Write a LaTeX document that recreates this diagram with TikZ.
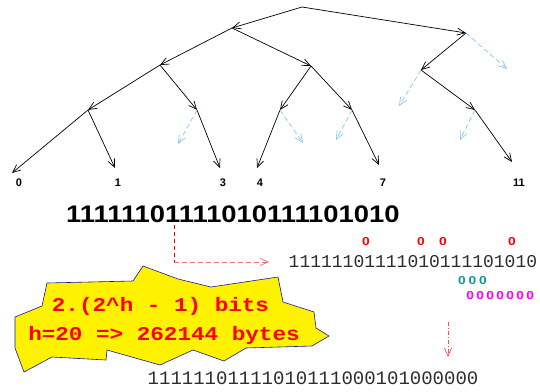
\documentclass[tikz,border=0pt]{standalone}
\usepackage{fontspec}
\setmainfont{Liberation Sans}
\newfontfamily\monofont{Liberation Mono}
\usetikzlibrary{arrows.meta}
\definecolor{ghostblue}{RGB}{135,200,250}
\definecolor{inkgray}{RGB}{45,45,45}
\definecolor{blobedge}{RGB}{25,25,140}
\definecolor{tealzero}{RGB}{20,150,150}
\definecolor{pinkred}{RGB}{235,110,110}
\definecolor{brightmagenta}{RGB}{255,0,255}
\newcommand\wzero{\scalebox{1.2}[1]{0}}
\newcommand\pzero{\makebox[10pt]{\wzero}}
\newcommand\qzero{\makebox[10.5pt]{\wzero}}
\tikzset{
  barb/.tip={Straight Barb[length=8pt,width=7pt]},
  treeline/.style={draw=black, line width=0.7pt, -barb},
  ghost/.style={draw=ghostblue, line width=0.7pt, dash pattern=on 5pt off 3pt, -barb},
  leaflabel/.style={font=\bfseries\fontsize{11}{11}\selectfont, inner sep=0pt},
  zerolabel/.style={font=\bfseries\fontsize{11.5}{11.5}\selectfont, inner sep=0pt},
  bitrow/.style={font=\monofont\fontsize{18}{18}\selectfont, text=inkgray, inner sep=0pt, anchor=base west},
  costtext/.style={font=\monofont\bfseries\fontsize{19.5}{19.5}\selectfont, text=red, inner sep=0pt, anchor=base},
}
\begin{document}
\begin{tikzpicture}[x=1pt,y=-1pt]
\useasboundingbox (0,0) rectangle (540,391);

% inner points of the tree
\coordinate (r)   at (302,7);
\coordinate (a)   at (232,28);
\coordinate (b)   at (466,33);
\coordinate (aa)  at (160,65);
\coordinate (ab)  at (311,66);
\coordinate (ba)  at (421,70);
\coordinate (aaa) at (88,110);
\coordinate (aab) at (197,110);
\coordinate (aba) at (280,110);
\coordinate (abb) at (352,110);
\coordinate (bab) at (475,110);
% leaf ends
\coordinate (l0)  at (12,173);
\coordinate (l1)  at (115,168);
\coordinate (l3)  at (220,168);
\coordinate (l4)  at (257,168);
\coordinate (l7)  at (379,165);
\coordinate (l11) at (512,162);
% ends of the empty branches
\coordinate (g1) at (507,69);
\coordinate (g2) at (399,106);
\coordinate (g3) at (178,144);
\coordinate (g4) at (303,143);
\coordinate (g5) at (336,140);
\coordinate (g6) at (460,140);

% present branches
\draw[treeline] (r) -- (a);
\draw[treeline] (r) -- (b);
\draw[treeline] (a) -- (aa);
\draw[treeline] (a) -- (ab);
\draw[treeline] (b) -- (ba);
\draw[treeline] (aa) -- (aaa);
\draw[treeline] (aa) -- (aab);
\draw[treeline] (ab) -- (aba);
\draw[treeline] (ab) -- (abb);
\draw[treeline] (ba) -- (bab);
\draw[treeline] (aaa) -- (l0);
\draw[treeline] (aaa) -- (l1);
\draw[treeline] (aab) -- (l3);
\draw[treeline] (aba) -- (l4);
\draw[treeline] (abb) -- (l7);
\draw[treeline] (bab) -- (l11);
% empty branches
\draw[ghost] (b) -- (g1);
\draw[ghost] (ba) -- (g2);
\draw[ghost] (aab) -- (g3);
\draw[ghost] (aba) -- (g4);
\draw[ghost] (abb) -- (g5);
\draw[ghost] (bab) -- (g6);

% leaf keys
\node[leaflabel] (k0)  at (19,183)  {0};
\node[leaflabel] (k1)  at (118,183) {1};
\node[leaflabel] (k3)  at (223,183) {3};
\node[leaflabel] (k4)  at (260,183) {4};
\node[leaflabel] (k7)  at (383,183) {7};
\node[leaflabel] (k11) at (519,183) {11};

% tree as a bit string
\node[anchor=base west, inner sep=0pt, font=\bfseries\fontsize{24}{24}\selectfont]
  (bits) at (66,222) {\scalebox{1.14}[1]{11111101111010111101010}};

% encoded string with its zero marks
\node[bitrow] (row) at (288.5,267) {11111101111010111101010};
\node[zerolabel, text=red, anchor=base] (z1) at (366,245) {\wzero};
\node[zerolabel, text=red, anchor=base] (z2) at (421,245) {\wzero};
\node[zerolabel, text=red, anchor=base] (z3) at (443,245) {\wzero};
\node[zerolabel, text=red, anchor=base] (z4) at (512,245) {\wzero};
\node[zerolabel, text=tealzero, anchor=base west] (tz) at (456.5,284) {\qzero\qzero\qzero};
\node[zerolabel, text=brightmagenta, anchor=base west] (mz) at (465,299) {\pzero\pzero\pzero\pzero\pzero\pzero\pzero};

\node[bitrow, font=\monofont\fontsize{19}{19}\selectfont] (final) at (147.5,384)
  {11111101111010111000101000000};

% connectors
\coordinate (tap)  at (174,225);
\coordinate (turn) at (174,262);
\coordinate (hit)  at (269,262);
\draw[red!85!black, line width=0.7pt, dash pattern=on 4pt off 3pt] (tap) -- (turn);
\draw[pinkred, line width=0.7pt, dash pattern=on 5pt off 3pt, -barb] (turn) -- (hit);

\coordinate (dropA) at (448,322);
\coordinate (dropB) at (448,357);
\draw[red!70, line width=0.7pt, dash pattern=on 4pt off 2pt on 1pt off 2pt, -barb] (dropA) -- (dropB);

% size note
\draw[fill=yellow, draw=blobedge, line width=0.6pt]
  (143,266) -- (178,279) -- (211,287) -- (278,277) -- (283,302) -- (314,312)
  -- (316,328) -- (329,336) -- (312,346) -- (246,348) -- (224,361) -- (193,350)
  -- (160,365) -- (107,350) -- (106,360) -- (52,357) -- (24,372) -- (15,348)
  -- (15,317) -- (42,306) -- (47,283) -- (133,281) -- cycle;
\node[costtext] (cost1) at (160.5,311) {\scalebox{1.16}[1]{2.(2\textasciicircum h - 1) bits}};
\node[costtext] (cost2) at (164,340) {\scalebox{1.16}[1]{h=20 => 262144 bytes}};
\end{tikzpicture}
\end{document}
